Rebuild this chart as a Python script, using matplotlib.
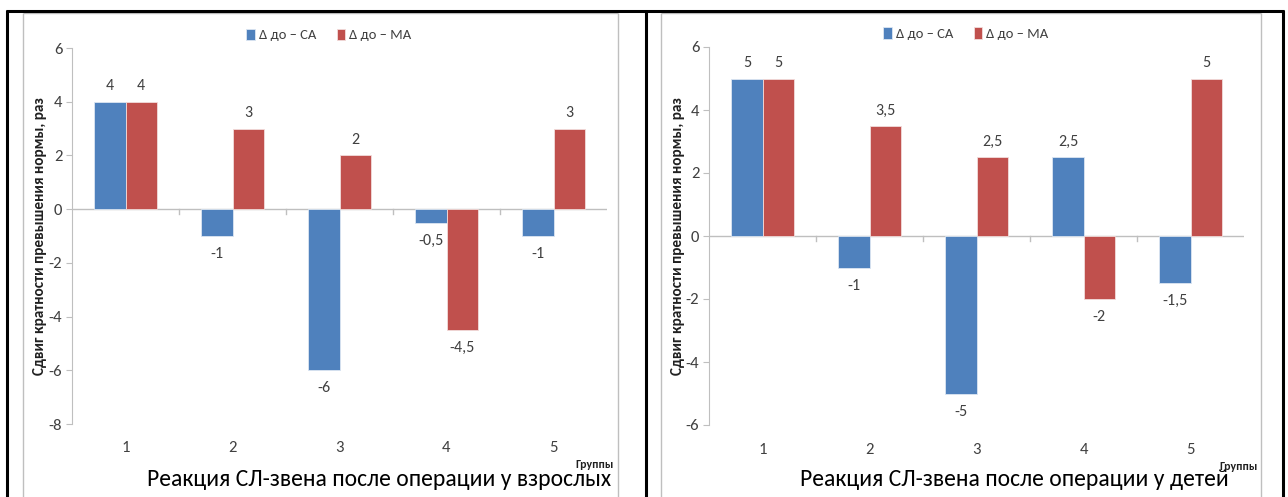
import matplotlib
matplotlib.use("Agg")
import matplotlib.pyplot as plt
from matplotlib.lines import Line2D
from matplotlib import font_manager
import numpy as np

# narrow font like Calibri if one is around, else Lato / DejaVu
names = {f.name for f in font_manager.fontManager.ttflist}
narrow = [n for n in ("Carlito", "Roboto Condensed", "Liberation Sans Narrow",
                      "Open Sans Condensed", "Lato") if n in names]
plt.rcParams["font.family"] = narrow[:1] + ["DejaVu Sans"]

groups = ["1", "2", "3", "4", "5"]
series_names = ["Δ до – CA", "Δ до – MA"]

adults_ca = [4, -1, -6, -0.5, -1]
adults_ma = [4, 3, 2, -4.5, 3]
children_ca = [5, -1, -5, 2.5, -1.5]
children_ma = [5, 3.5, 2.5, -2, 5]

adults_yticks = [-8, -6, -4, -2, 0, 2, 4, 6]
children_yticks = [-6, -4, -2, 0, 2, 4, 6]

titles = ["Реакция СЛ-звена после операции у взрослых",
          "Реакция СЛ-звена после операции у детей"]
ylabel = "Сдвиг кратности превышения нормы, раз"
xlabel = "Группы"

BLUE = "#4F81BD"
RED = "#C0504D"
GREY = "#BFBFBF"
W, H = 1288, 497


def fmt(v):
    return f"{v:g}".replace(".", ",")


def draw(ax, ca, ma, yticks):
    x = np.arange(len(groups))
    bw = 0.29
    b1 = ax.bar(x - bw / 2, ca, bw, color=BLUE, edgecolor="#DCE6F2", linewidth=0.6,
                label=series_names[0], zorder=3)
    b2 = ax.bar(x + bw / 2, ma, bw, color=RED, edgecolor="#F2DCDB", linewidth=0.6,
                label=series_names[1], zorder=3)
    for bars, vals in ((b1, ca), (b2, ma)):
        for rect, v in zip(bars, vals):
            ax.annotate(fmt(v), (rect.get_x() + rect.get_width() / 2, v),
                        xytext=(0, 6 if v >= 0 else -8), textcoords="offset points",
                        ha="center", va="bottom" if v >= 0 else "top",
                        fontsize=11.5, color="#404040")
    ax.set_xlim(-0.5, len(groups) - 0.5)
    ax.set_ylim(yticks[0], yticks[-1])
    ax.set_yticks(yticks)
    ax.set_yticklabels([str(t) for t in yticks], fontsize=12, color="#404040")
    ax.axhline(0, color=GREY, lw=1, zorder=2)
    # category boundary ticks on the zero line
    span = yticks[-1] - yticks[0]
    for b in np.arange(0.5, len(groups) - 0.5, 1.0):
        ax.plot([b, b], [0, -span * 0.012], color=GREY, lw=1, zorder=2)
    ax.set_xticks([])
    for i, g in enumerate(groups):
        ax.text(i, -0.065, g, transform=ax.get_xaxis_transform(),
                ha="center", va="center", fontsize=12, color="#404040")
    for s in ("top", "right", "bottom"):
        ax.spines[s].set_visible(False)
    ax.spines["left"].set_color(GREY)
    ax.tick_params(axis="y", length=4, color=GREY, pad=3)
    ax.legend(loc="center", bbox_to_anchor=(0.48, 1.035), ncol=2, frameon=False,
              fontsize=10.5, handlelength=0.6, handleheight=0.8,
              handletextpad=0.25, columnspacing=1.4, labelcolor="#404040")


fig = plt.figure(figsize=(W / 100, H / 100), dpi=100)

ax1 = fig.add_axes([72 / W, 1 - 424 / H, 535 / W, 376 / H])
draw(ax1, adults_ca, adults_ma, adults_yticks)
ax2 = fig.add_axes([709 / W, 1 - 425 / H, 535 / W, 378 / H])
draw(ax2, children_ca, children_ma, children_yticks)

fig.text(40 / W, 1 - 236 / H, ylabel, rotation=90, ha="center", va="center",
         fontsize=11, fontweight="bold", color="#202020")
fig.text(678 / W, 1 - 236 / H, ylabel, rotation=90, ha="center", va="center",
         fontsize=11, fontweight="bold", color="#202020")
fig.text(614 / W, 1 - 465 / H, xlabel, ha="right", va="center",
         fontsize=8.5, fontweight="bold", color="#202020")
fig.text(1258 / W, 1 - 466 / H, xlabel, ha="right", va="center",
         fontsize=8.5, fontweight="bold", color="#202020")
fig.text(611 / W, 1 - 480 / H, titles[0], ha="right", va="center",
         fontsize=17, fontweight="medium", color="black")
fig.text(1229 / W, 1 - 480 / H, titles[1], ha="right", va="center",
         fontsize=17, fontweight="medium", color="black")


def fline(x0, y0, x1, y1, color, lw):
    fig.add_artist(Line2D([x0 / W, x1 / W], [1 - y0 / H, 1 - y1 / H],
                          color=color, lw=lw, solid_capstyle="butt"))


# grey chart frames
for left, right in ((23, 618), (661, 1261)):
    fline(left, 13, right, 13, GREY, 1)
    fline(left, 13, left, H, GREY, 1)
    fline(right, 13, right, H, GREY, 1)
# black outer table borders
fline(6, 11, 1284, 11, "black", 2.2)
for xb in (7, 646, 1283):
    fline(xb, 10, xb, H, "black", 2.2)

fig.savefig("out.png", dpi=100)
